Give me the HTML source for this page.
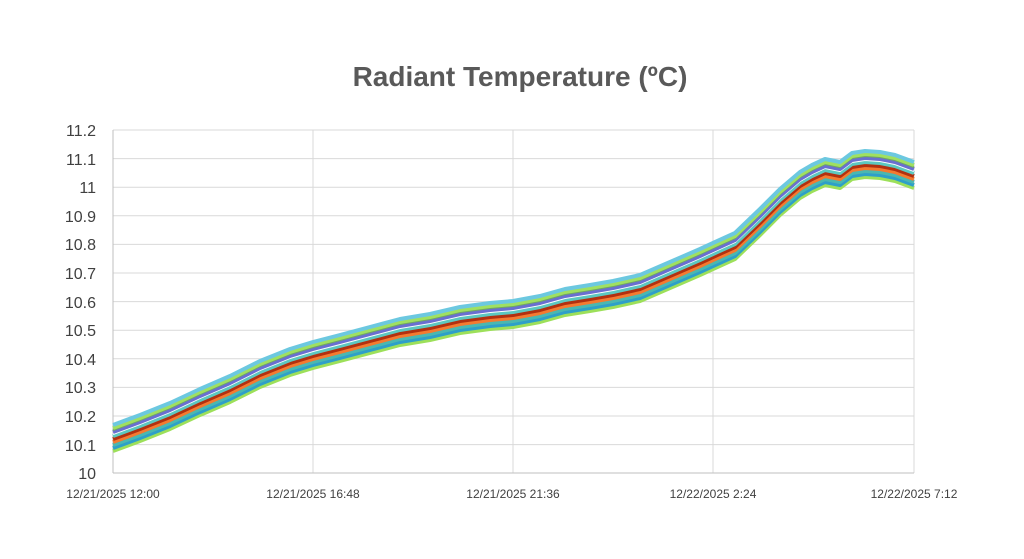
<!DOCTYPE html>
<html><head><meta charset="utf-8"><style>
html,body{margin:0;padding:0;background:#fff;}
svg{display:block}
</style></head><body>
<svg width="1024" height="559" viewBox="0 0 1024 559" xmlns="http://www.w3.org/2000/svg">
<rect width="1024" height="559" fill="#fff"/>
<text x="520" y="86" text-anchor="middle" font-family="Liberation Sans, sans-serif" font-weight="bold" font-size="28" fill="#595959">Radiant Temperature (ºC)</text>
<g stroke="#d9d9d9" stroke-width="1">
<line x1="113" y1="130" x2="914" y2="130"/><line x1="113" y1="158.6" x2="914" y2="158.6"/>
<line x1="113" y1="187.2" x2="914" y2="187.2"/><line x1="113" y1="215.8" x2="914" y2="215.8"/>
<line x1="113" y1="244.4" x2="914" y2="244.4"/><line x1="113" y1="273" x2="914" y2="273"/>
<line x1="113" y1="301.6" x2="914" y2="301.6"/><line x1="113" y1="330.2" x2="914" y2="330.2"/>
<line x1="113" y1="358.8" x2="914" y2="358.8"/><line x1="113" y1="387.4" x2="914" y2="387.4"/>
<line x1="113" y1="416" x2="914" y2="416"/><line x1="113" y1="444.6" x2="914" y2="444.6"/>
<line x1="313" y1="130" x2="313" y2="473"/><line x1="513" y1="130" x2="513" y2="473"/>
<line x1="713" y1="130" x2="713" y2="473"/><line x1="914" y1="130" x2="914" y2="473"/>
</g>
<g stroke="#bfbfbf" stroke-width="1"><line x1="113" y1="130" x2="113" y2="473"/><line x1="113" y1="473" x2="914" y2="473"/></g>
<g font-family="Liberation Sans, sans-serif" font-size="16" fill="#404040" text-anchor="end">
<text x="96" y="136">11.2</text><text x="96" y="165">11.1</text><text x="96" y="193">11</text>
<text x="96" y="222">10.9</text><text x="96" y="250">10.8</text><text x="96" y="279">10.7</text>
<text x="96" y="308">10.6</text><text x="96" y="336">10.5</text><text x="96" y="365">10.4</text>
<text x="96" y="393">10.3</text><text x="96" y="422">10.2</text><text x="96" y="451">10.1</text>
<text x="96" y="479">10</text>
</g>
<g font-family="Liberation Sans, sans-serif" font-size="12" fill="#404040" text-anchor="middle">
<text x="113" y="498">12/21/2025 12:00</text><text x="313" y="498">12/21/2025 16:48</text>
<text x="513" y="498">12/21/2025 21:36</text><text x="713" y="498">12/22/2025 2:24</text>
<text x="914" y="498">12/22/2025 7:12</text>
</g>
<defs>
<path id="c" fill="none" d="M113,438 L140,428 L170,416 L200,402 L230,389 L260,374 L290,362 L313,355 L340,348 L370,340 L400,332 L430,327 L460,320 L490,316 L513,314 L540,309 L565,302 L590,298 L613,294 L640,288 L670,275 L700,262 L713,256 L735,246 L760,222 L780,202 L800,185 L812,178 L825,172 L840,175 L852,166 L865,164 L880,165 L895,168 L914,175"/>
</defs>
<g stroke-width="4" stroke-linejoin="round">
<use href="#c" stroke="#9de05a" transform="translate(0,13)"/>
<use href="#c" stroke="#2e9fc9" transform="translate(0,10)"/>
<use href="#c" stroke="#4ab8b0" transform="translate(0,7)"/>
<use href="#c" stroke="#f47a30" transform="translate(0,4)"/>
<use href="#c" stroke="#b23010" transform="translate(0,1)"/>
<use href="#c" stroke="#5cc8c0" transform="translate(0,-2)"/>
<use href="#c" stroke="#ffffff" stroke-width="2" transform="translate(0,-4)"/>
<use href="#c" stroke="#6a6fd0" transform="translate(0,-6)"/>
<use href="#c" stroke="#70a860" stroke-width="2" transform="translate(0,-8)"/>
<use href="#c" stroke="#a0e060" transform="translate(0,-10)"/>
<use href="#c" stroke="#6cc8e0" transform="translate(0,-13)"/>
</g>
</svg>
</body></html>
